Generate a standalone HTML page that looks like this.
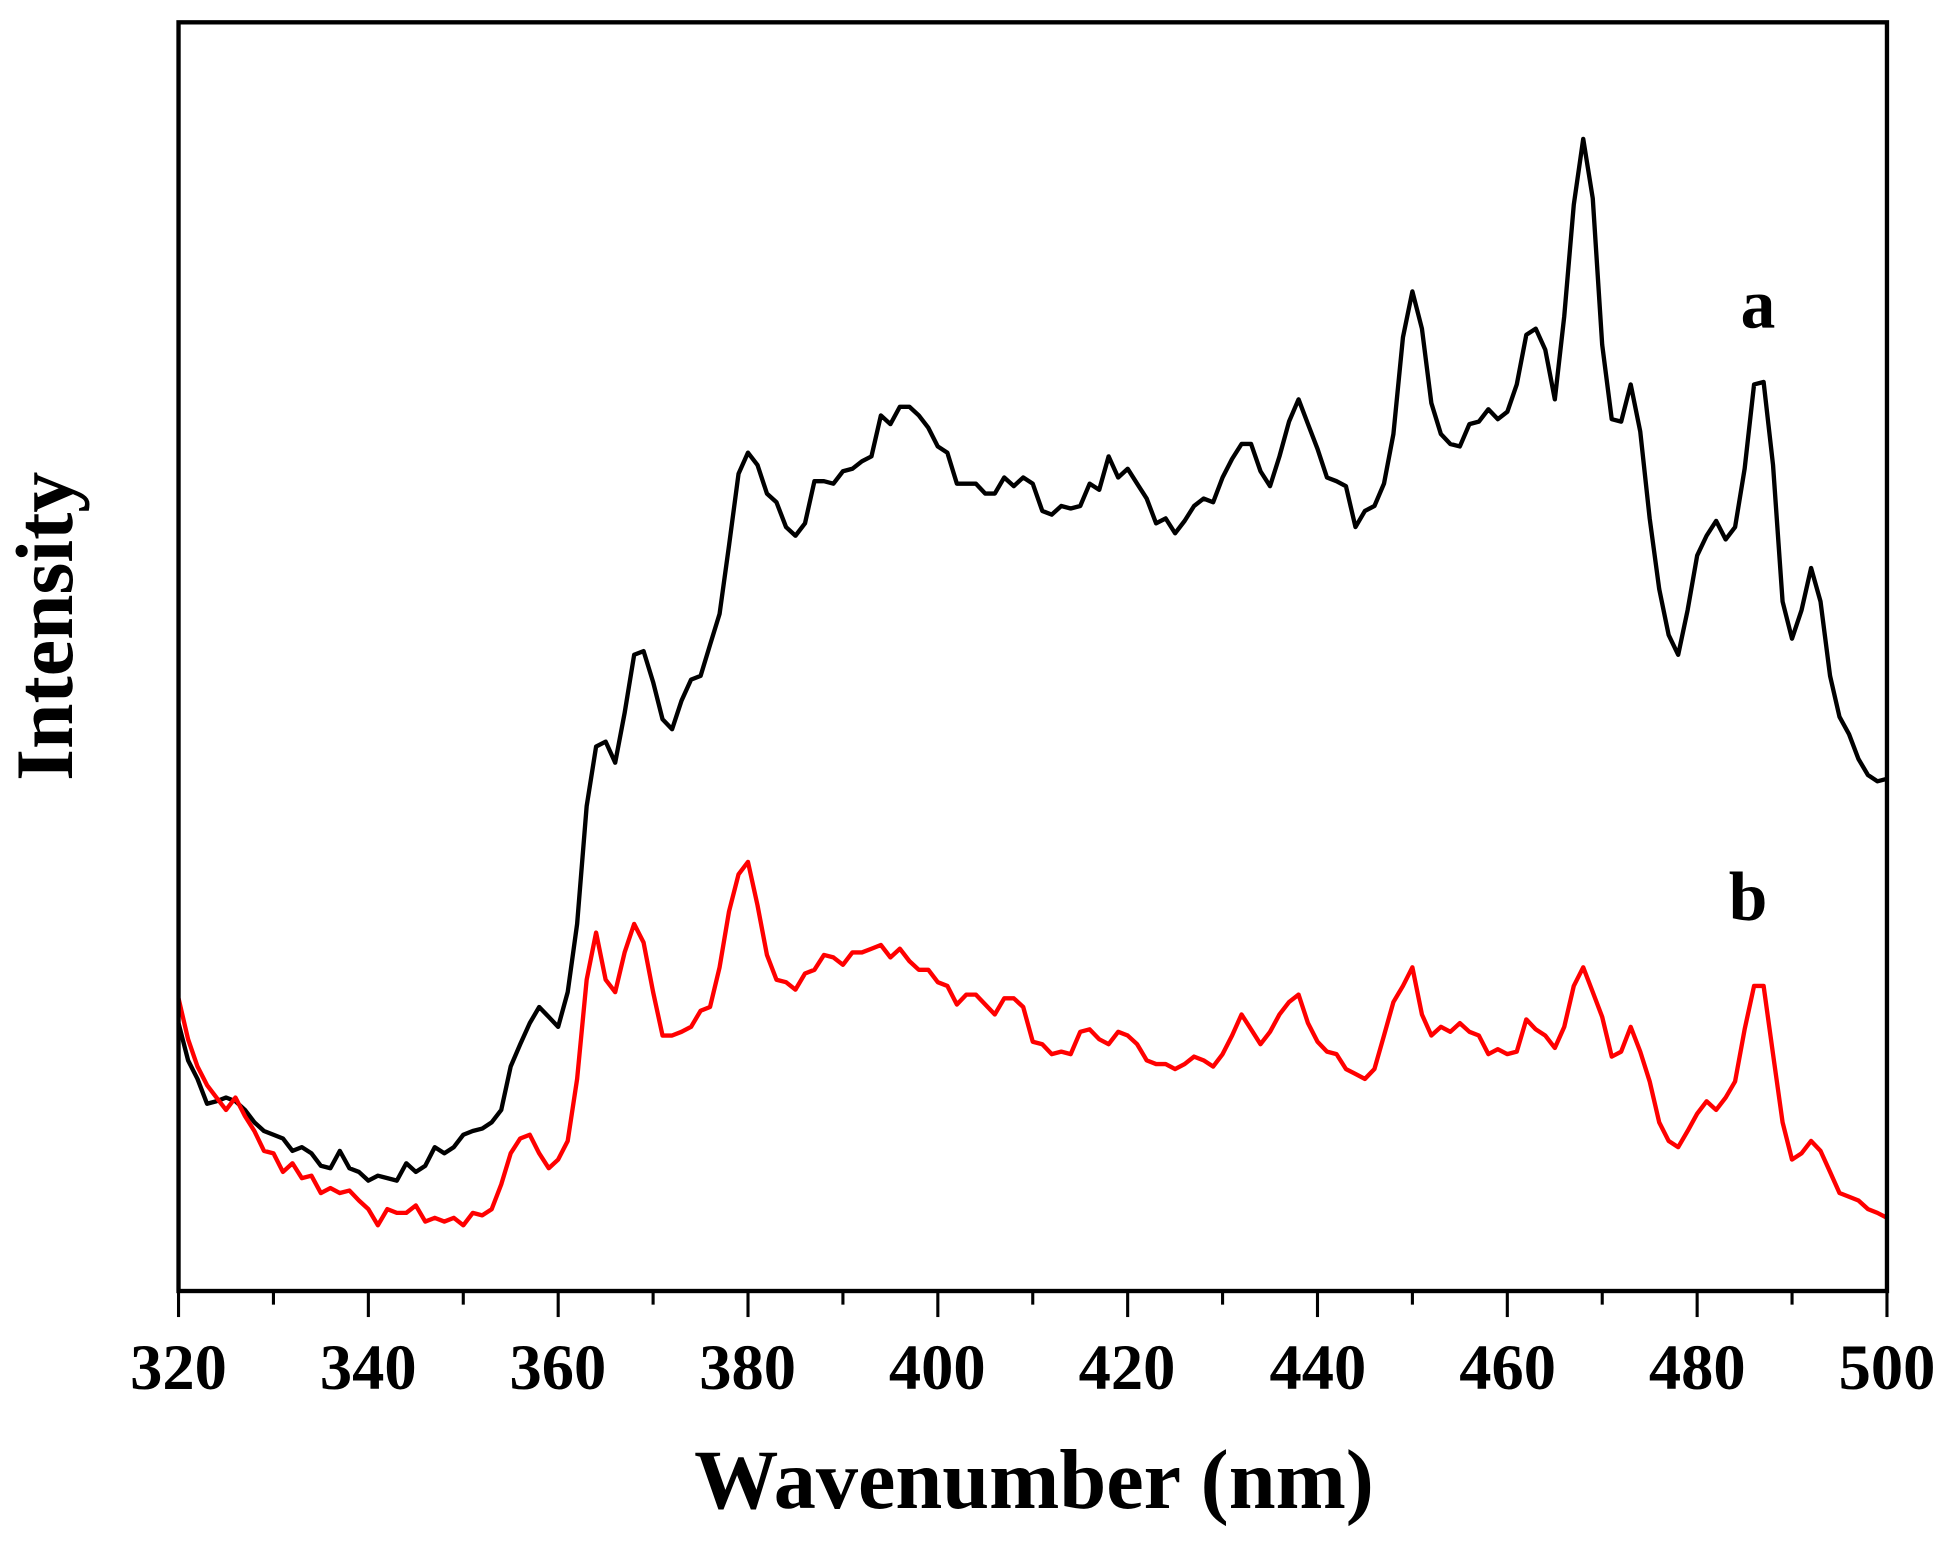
<!DOCTYPE html>
<html><head><meta charset="utf-8"><style>
html,body{margin:0;padding:0;background:#fff;}
svg{display:block;}
text{font-family:"Liberation Serif",serif;font-weight:bold;fill:#000;}
</style></head><body>
<svg id="s" width="1944" height="1544" viewBox="0 0 1568 1245" preserveAspectRatio="none">
<rect x="0" y="0" width="1568" height="1245" fill="#fff"/>
<g id="ticks" stroke="#000" stroke-width="2.5"></g>
<polyline id="pa" fill="none" stroke="#000" stroke-width="3.5" stroke-linejoin="round"/>
<polyline id="pb" fill="none" stroke="#f00" stroke-width="3.5" stroke-linejoin="round"/>
<rect x="144" y="18" width="1378" height="1023" fill="none" stroke="#000" stroke-width="3.5"/>
<g font-size="52" text-anchor="middle">
<text x="144" y="1120">320</text><text x="297" y="1120">340</text><text x="450" y="1120">360</text>
<text x="603" y="1120">380</text><text x="756" y="1120">400</text><text x="909" y="1120">420</text>
<text x="1063" y="1120">440</text><text x="1216" y="1120">460</text><text x="1369" y="1120">480</text>
<text x="1522" y="1120">500</text>
</g>
<text x="834" y="1216" font-size="68" text-anchor="middle">Wavenumber (nm)</text>
<text transform="translate(58,505) rotate(-90)" font-size="66" text-anchor="middle">Intensity</text>
<text x="1418" y="264" font-size="56" text-anchor="middle">a</text>
<text x="1410" y="742" font-size="56" text-anchor="middle">b</text>
</svg>
<script>
var A=[825,855,870,890,888,885,888,895,905,912,915,918,928,925,930,940,942,928,942,945,952,948,950,952,938,945,940,925,930,925,915,912,910,905,895,860,842,825,812,820,828,800,745,650,602,598,615,575,528,525,550,580,588,565,548,545,520,495,440,382,365,375,398,405,425,432,422,388,388,390,380,378,372,368,335,342,328,328,335,345,360,365,390,390,390,398,398,385,392,385,390,412,415,408,410,408,390,395,368,385,378,390,402,422,418,430,420,408,402,405,385,370,358,358,380,392,368,340,322,342,362,385,388,392,425,412,408,390,350,272,235,265,325,350,358,360,342,340,330,338,332,310,270,265,282,322,255,165,112,160,278,338,340,310,348,418,475,512,528,492,448,432,420,435,425,378,310,308,375,485,515,492,458,485,545,578,592,612,625,630,628];
var B=[805,838,860,875,885,895,885,900,912,928,930,945,938,950,948,962,958,962,960,968,975,988,975,978,978,972,985,982,985,982,988,978,980,975,955,930,918,915,930,942,935,920,870,790,752,790,800,768,745,760,800,835,835,832,828,815,812,780,735,705,695,730,770,790,792,798,785,782,770,772,778,768,768,765,762,772,765,775,782,782,792,795,810,802,802,810,818,805,805,812,840,842,850,848,850,832,830,838,842,832,835,842,855,858,858,862,858,852,855,860,850,835,818,830,842,832,818,808,802,825,840,848,850,862,866,870,862,835,808,795,780,818,835,828,832,825,832,835,850,846,850,848,822,830,835,845,828,795,780,800,820,852,848,828,848,872,905,920,925,912,898,888,895,885,872,830,795,795,850,905,935,930,920,928,945,962,965,968,975,978,982];
function X(i){return 144+i*1378/180;}
function pts(a){return a.map(function(y,i){return X(i).toFixed(1)+','+y;}).join(' ');}
document.getElementById('pa').setAttribute('points',pts(A));
document.getElementById('pb').setAttribute('points',pts(B));
var g=document.getElementById('ticks'),h='';
for(var w=320;w<=500;w+=10){var x=X(w-320),L=(w%20==0)?21:11;h+='<line x1="'+x+'" y1="1041" x2="'+x+'" y2="'+(1041+L)+'"/>';}
g.innerHTML=h;
</script>
</body></html>
